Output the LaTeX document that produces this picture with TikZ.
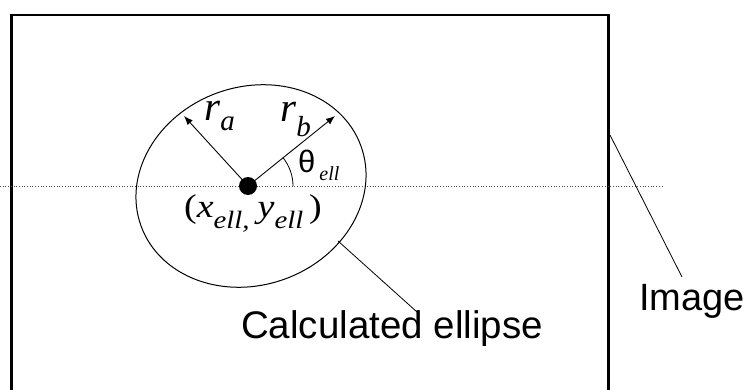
\documentclass[tikz,border=0pt]{standalone}
\usepackage{fontspec}
\setmainfont{Liberation Serif}
\newfontfamily\arialf{Liberation Sans}
\usetikzlibrary{arrows.meta,shapes.geometric}
\newcommand{\fsz}[1]{\fontsize{#1}{#1}\selectfont}
\tikzset{
  frame/.style={line width=2.6pt},
  leader/.style={line width=0.8pt},
  radius arrow/.style={line width=0.9pt,-{Latex[length=9pt,width=7pt]}},
  lbl/.style={inner sep=0pt,anchor=base west},
}
\begin{document}
\begin{tikzpicture}[x=1pt,y=-1pt]
\useasboundingbox (0,0) rectangle (747,390);
% image frame (open at bottom)
\draw[frame] (11.5,391) -- (11.5,15) -- (608.5,15) -- (608.5,391);
% horizontal dotted reference line
\draw[dotted,line width=0.7pt,black!70] (0,186) -- (663,186);
% ellipse
\node[draw,ellipse,line width=1pt,minimum width=234pt,minimum height=198pt,inner sep=0pt,rotate=20] (ell) at (251,186) {};
% centre dot
\node[circle,fill=black,minimum size=18pt,inner sep=0pt] (c) at (248,186) {};
\coordinate (ta) at (184,116);
\coordinate (tb) at (335,116);
\draw[radius arrow] (c.center) -- (ta);
\draw[radius arrow] (c.center) -- (tb);
% angle arc
\draw[line width=0.8pt] (293,186) arc[start angle=0,end angle=-39,radius=45];
% labels
\node[lbl] (ra) at (204,121) {\fsz{41}\textit{r}\raisebox{-10pt}{\fsz{29}\textit{a}}};
\node[lbl] (rb) at (280,122) {\fsz{41}\textit{r}\raisebox{-15pt}{\fsz{29}\textit{b}}};
\node[lbl] (th) at (298,173) {\arialf\fsz{31}θ\hspace{4pt}\raisebox{-8pt}{\rmfamily\fsz{20}\textit{ell}}};
\node[lbl] (xy) at (184,218) {\scalebox{1.15}[1]{\fsz{33}(\textit{x}\raisebox{-11pt}{\fsz{25}\textit{ell,}}\hspace{7pt}\textit{y}\raisebox{-11pt}{\fsz{25}\textit{ell}}\hspace{5pt})}};
% callouts
\node[lbl] (calc) at (241,338) {\arialf\fsz{38.5}Calculated ellipse};
\node[lbl] (img) at (639,310) {\arialf\fsz{38}Image};
\coordinate (e1) at (338,241);
\coordinate (e2) at (417,312);
\draw[leader] (e1) -- (e2);
\coordinate (i1) at (610,135);
\coordinate (i2) at (682,277);
\draw[leader] (i1) -- (i2);
\end{tikzpicture}
\end{document}
